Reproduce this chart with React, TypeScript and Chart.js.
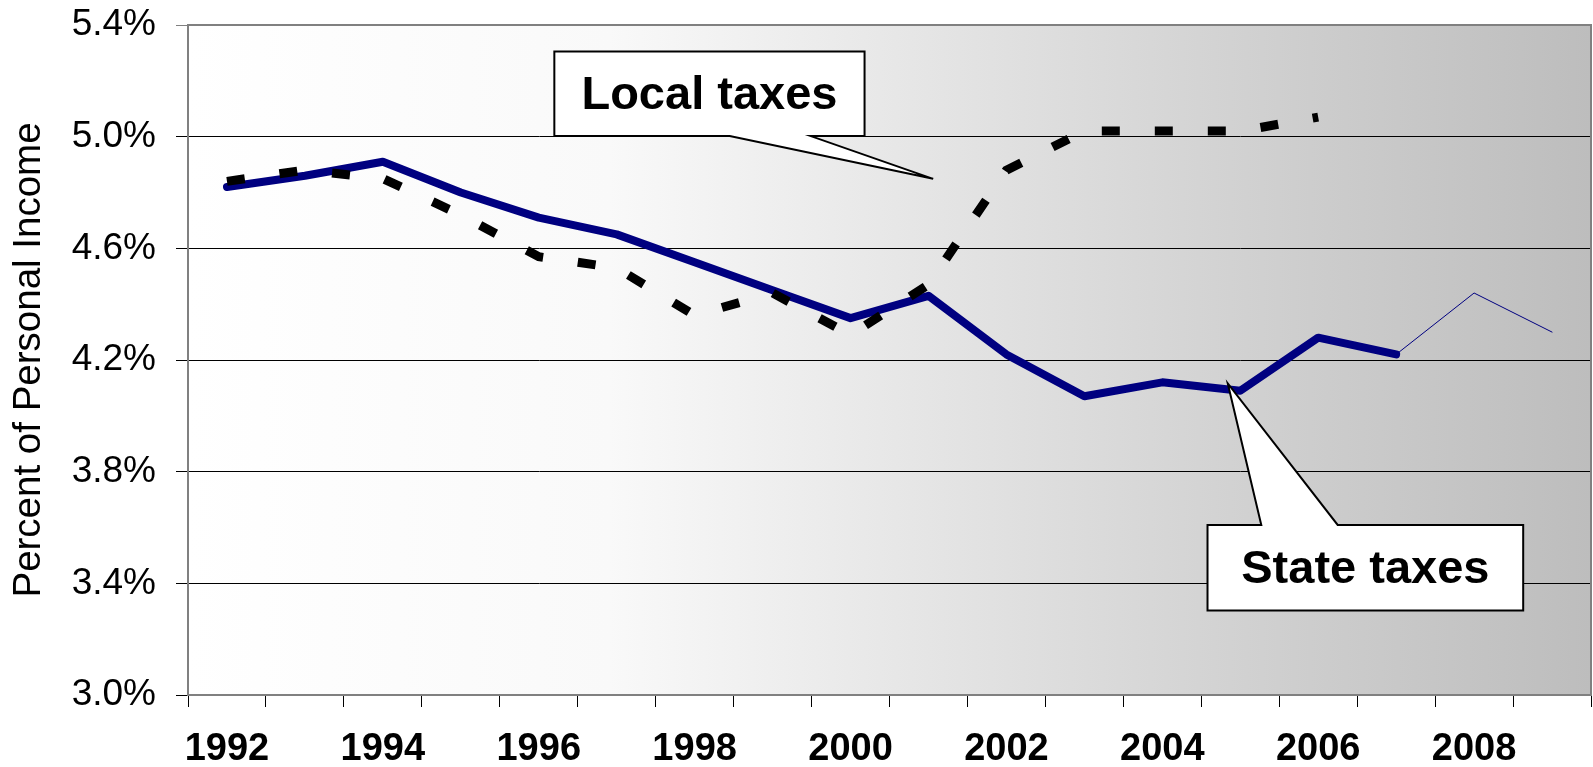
import React, { useEffect, useRef } from "react";
import { Chart, registerables } from "chart.js";

Chart.register(...registerables);

const years = ["1992","1993","1994","1995","1996","1997","1998","1999","2000","2001","2002","2003","2004","2005","2006","2007","2008","2009"];
const stateTaxes = [4.82, 4.86, 4.91, 4.80, 4.71, 4.65, 4.55, 4.45, 4.35, 4.43, 4.22, 4.07, 4.12, 4.09, 4.28, 4.22, 4.44, 4.30];
const localTaxes = [4.84, 4.88, 4.85, 4.72, 4.57, 4.53, 4.36, 4.44, 4.29, 4.47, 4.88, 5.02, 5.02, 5.02, 5.07, null, null, null];
const yTicks = [3.0, 3.4, 3.8, 4.2, 4.6, 5.0, 5.4];
const localLabel = "Local taxes";
const stateLabel = "State taxes";
const yTitle = "Percent of Personal Income";

const FONT = "'Liberation Sans', Arial, sans-serif";

const bgPlugin = {
  id: "bgGradient",
  beforeDraw(chart: any) {
    const { ctx, chartArea: a } = chart;
    const g = ctx.createLinearGradient(a.left, 0, a.right, 0);
    g.addColorStop(0, "#ffffff");
    g.addColorStop(0.3, "#f9f9f9");
    g.addColorStop(0.55, "#e3e3e3");
    g.addColorStop(0.8, "#cdcdcd");
    g.addColorStop(1, "#bdbdbd");
    ctx.save();
    ctx.fillStyle = g;
    ctx.fillRect(a.left, a.top, a.right - a.left, a.bottom - a.top);
    ctx.restore();
  },
  afterDraw(chart: any) {
    const { ctx, chartArea: a } = chart;
    ctx.save();
    ctx.strokeStyle = "#808080";
    ctx.lineWidth = 2;
    ctx.beginPath();
    ctx.moveTo(a.left, a.top);
    ctx.lineTo(a.right, a.top);
    ctx.lineTo(a.right, a.bottom);
    ctx.stroke();
    ctx.restore();
  },
};

function drawCallout(chart: any, box: any, wedge: any, text: string, wedgeOnTop: boolean) {
  const { ctx, scales } = chart;
  const xs = scales.x, ys = scales.y;
  const L = xs.getPixelForValue(box.x0), R = xs.getPixelForValue(box.x1);
  const T = ys.getPixelForValue(box.y1), B = ys.getPixelForValue(box.y0);
  const w0 = xs.getPixelForValue(wedge.b0), w1 = xs.getPixelForValue(wedge.b1);
  const tx = xs.getPixelForValue(wedge.tx), ty = ys.getPixelForValue(wedge.ty);
  ctx.save();
  ctx.beginPath();
  ctx.moveTo(L, T);
  if (wedgeOnTop) {
    ctx.lineTo(w0, T);
    ctx.lineTo(tx, ty);
    ctx.lineTo(w1, T);
    ctx.lineTo(R, T);
    ctx.lineTo(R, B);
    ctx.lineTo(L, B);
  } else {
    ctx.lineTo(R, T);
    ctx.lineTo(R, B);
    ctx.lineTo(w1, B);
    ctx.lineTo(tx, ty);
    ctx.lineTo(w0, B);
    ctx.lineTo(L, B);
  }
  ctx.closePath();
  ctx.fillStyle = "#ffffff";
  ctx.fill();
  ctx.strokeStyle = "#000000";
  ctx.lineWidth = 2;
  ctx.lineJoin = "miter";
  ctx.stroke();
  ctx.fillStyle = "#000000";
  ctx.font = `bold 47px ${FONT}`;
  ctx.textAlign = "center";
  ctx.textBaseline = "middle";
  ctx.fillText(text, (L + R) / 2, (T + B) / 2 + 2);
  ctx.restore();
}

const calloutPlugin = {
  id: "callouts",
  afterDatasetsDraw(chart: any) {
    drawCallout(chart, { x0: 4.2, x1: 8.18, y0: 5.002, y1: 5.305 }, { b0: 6.45, b1: 7.49, tx: 9.06, ty: 4.849 }, localLabel, false);
    drawCallout(chart, { x0: 12.58, x1: 16.63, y0: 3.303, y1: 3.609 }, { b0: 13.27, b1: 14.25, tx: 12.84, ty: 4.116 }, stateLabel, true);
  },
};

export default function App() {
  const ref = useRef<HTMLCanvasElement | null>(null);
  useEffect(() => {
    if (!ref.current) return;
    const chart = new Chart(ref.current, {
      type: "line",
      data: {
        labels: years,
        datasets: [
          {
            label: "Local taxes",
            data: localTaxes,
            borderColor: "#000000",
            borderWidth: 9,
            borderDash: [18, 35],
            borderCapStyle: "butt",
            pointRadius: 0,
            tension: 0,
            fill: false,
          },
          {
            label: "State taxes",
            data: stateTaxes,
            borderColor: "#000080",
            borderWidth: 8,
            borderCapStyle: "round",
            borderJoinStyle: "round",
            pointRadius: 0,
            tension: 0,
            fill: false,
            segment: {
              borderWidth: (c: any) => (c.p0DataIndex >= 15 ? 1 : 8),
            },
          },
        ],
      },
      options: {
        animation: false,
        responsive: true,
        maintainAspectRatio: false,
        layout: { padding: 0 },
        plugins: { legend: { display: false }, tooltip: { enabled: false } },
        scales: {
          x: {
            offset: true,
            afterFit: (axis: any) => {
              axis.paddingLeft = 0;
              axis.paddingRight = 2;
              axis.height = 72;
            },
            grid: {
              offset: true,
              drawOnChartArea: false,
              drawTicks: true,
              tickLength: 12,
              color: "#000000",
              lineWidth: 1,
            },
            border: { display: true, color: "#808080", width: 2 },
            ticks: {
              autoSkip: false,
              maxRotation: 0,
              minRotation: 0,
              color: "#000000",
              padding: 24,
              font: { family: FONT, size: 38, weight: "bold", lineHeight: 1 },
              callback: (_v: any, i: number) => (i % 2 === 0 ? years[i] : ""),
            },
          },
          y: {
            min: 3.0,
            max: 5.4,
            afterBuildTicks: (axis: any) => {
              axis.ticks = yTicks.map((v) => ({ value: v }));
            },
            afterFit: (axis: any) => {
              axis.paddingTop = 25;
              axis.paddingBottom = 0;
              axis.width = 188;
            },
            grid: {
              color: (c: any) => (c.tick && Math.abs(c.tick.value - 5.4) < 1e-6 ? "#808080" : "#000000"),
              lineWidth: 1,
              tickLength: 12,
              drawTicks: true,
            },
            border: { display: true, color: "#808080", width: 2 },
            ticks: {
              color: "#000000",
              padding: 20,
              font: { family: FONT, size: 37 },
              callback: (v: any) => Number(v).toFixed(1) + "%",
            },
            title: {
              display: true,
              text: yTitle,
              color: "#000000",
              font: { family: FONT, size: 38.5 },
              padding: { top: 6, bottom: 4 },
            },
          },
        },
      },
      plugins: [bgPlugin, calloutPlugin],
    });
    return () => chart.destroy();
  }, []);
  return (
    <div style={{ position: "absolute", left: 0, top: 0, width: "1593px", height: "767px" }}>
      <canvas ref={ref} />
    </div>
  );
}
